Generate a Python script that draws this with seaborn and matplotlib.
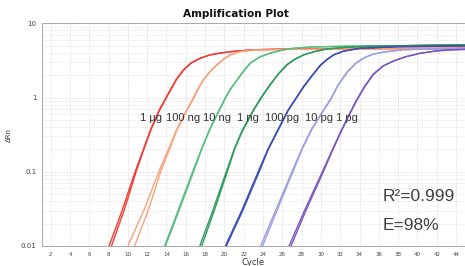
import numpy as np
import pandas as pd
import matplotlib
matplotlib.use("Agg")
import matplotlib.pyplot as plt
import seaborn as sns

# standards, dilution series
samples = ["1 µg", "100 ng", "10 ng", "1 ng", "100 pg", "10 pg", "1 pg"]
colors = ["#f23b36", "#f7a27a", "#5cbf80", "#2f9a5c", "#3a4db5", "#9c9fe0", "#7a58bd"]

# delta Rn readings per standard; two replicates (A/B) share the Rn values
v_1ug = [0.005, 0.01, 0.03, 0.1, 0.2, 0.37, 0.68, 1.0, 1.27, 1.75, 2.36, 2.9, 3.4, 3.75, 3.96, 4.2, 4.4, 4.55, 4.6]
c_1ug_a = [7.55, 8.05, 9.4, 10.75, 11.6, 12.35, 13.25, 13.95, 14.4, 15.0, 15.75, 16.5, 17.5, 18.5, 19.5, 21, 23, 28, 45]
c_1ug_b = [7.8, 8.3, 9.6, 10.85, 11.65, 12.4, 13.3, 14.0, 14.45, 15.05, 15.8, 16.55, 17.55, 18.5, 19.5, 21, 23, 28, 45]

v_100ng = [0.005, 0.01, 0.03, 0.1, 0.2, 0.37, 0.68, 1.0, 1.35, 1.73, 2.25, 2.76, 3.3, 3.76, 4.15, 4.35, 4.45, 4.55]
c_100ng_a = [9.5, 10.0, 11.65, 13.2, 14.2, 15.05, 16.1, 16.8, 17.3, 17.8, 18.5, 19.2, 19.9, 20.6, 21.6, 23, 26, 45]
c_100ng_b = [10.2, 10.7, 12.1, 13.4, 14.3, 15.1, 16.15, 16.85, 17.35, 17.85, 18.55, 19.25, 19.95, 20.65, 21.6, 23, 26, 45]

v_10ng = [0.005, 0.01, 0.03, 0.1, 0.2, 0.37, 0.72, 1.0, 1.3, 1.73, 2.3, 2.9, 3.5, 3.96, 4.3, 4.6, 4.8, 4.9, 5.1]
c_10ng_a = [13.3, 13.8, 15.2, 16.7, 17.6, 18.45, 19.55, 20.1, 20.6, 21.3, 22.0, 22.65, 23.6, 24.7, 25.8, 27.1, 29, 32, 45]
c_10ng_b = [13.4, 13.9, 15.3, 16.8, 17.65, 18.5, 19.6, 20.15, 20.65, 21.35, 22.05, 22.7, 23.65, 24.75, 25.8, 27.1, 29, 32, 45]

v_1ng = [0.005, 0.01, 0.03, 0.1, 0.2, 0.35, 0.68, 1.0, 1.48, 2.1, 2.76, 3.3, 3.76, 4.15, 4.5, 4.75, 4.9, 5.15]
c_1ng_a = [17.0, 17.45, 18.8, 20.2, 21.0, 21.8, 23.0, 23.8, 24.7, 25.6, 26.45, 27.3, 28.2, 29.3, 30.6, 32.5, 35, 45]
c_1ng_b = [17.2, 17.65, 18.95, 20.3, 21.05, 21.85, 23.05, 23.85, 24.75, 25.65, 26.5, 27.35, 28.25, 29.3, 30.6, 32.5, 35, 45]

v_100pg = [0.005, 0.01, 0.03, 0.1, 0.2, 0.37, 0.68, 1.0, 1.41, 2.0, 2.7, 3.25, 3.76, 4.2, 4.6, 4.85, 4.95]
c_100pg_a = [19.6, 20.1, 21.8, 23.5, 24.5, 25.55, 26.6, 27.45, 28.2, 29.1, 29.9, 30.6, 31.3, 32.3, 34, 38, 45]
c_100pg_b = [19.7, 20.2, 21.9, 23.6, 24.55, 25.6, 26.65, 27.5, 28.25, 29.15, 29.95, 30.65, 31.35, 32.3, 34, 38, 45]

v_10pg = [0.005, 0.01, 0.03, 0.1, 0.2, 0.37, 0.6, 0.93, 1.5, 2.2, 2.9, 3.4, 3.8, 4.1, 4.4, 4.5, 4.55]
c_10pg_a = [23.3, 23.75, 25.3, 27.0, 28.0, 29.0, 30.0, 30.95, 31.8, 32.7, 33.6, 34.4, 35.3, 36.5, 38.5, 41, 45]
c_10pg_b = [23.5, 23.95, 25.45, 27.1, 28.05, 29.05, 30.05, 31.0, 31.85, 32.75, 33.65, 34.45, 35.3, 36.5, 38.5, 41, 45]

v_1pg = [0.005, 0.01, 0.03, 0.1, 0.2, 0.37, 0.62, 0.93, 1.4, 2.05, 2.65, 3.1, 3.55, 3.95, 4.25, 4.4, 4.45]
c_1pg_a = [26.2, 26.7, 28.3, 30.15, 31.2, 32.15, 33.0, 33.7, 34.5, 35.4, 36.4, 37.5, 38.8, 40.3, 42, 43.7, 45]
c_1pg_b = [26.4, 26.9, 28.45, 30.25, 31.25, 32.2, 33.05, 33.75, 34.55, 35.45, 36.45, 37.5, 38.8, 40.3, 42, 43.7, 45]

curves = [
    ("1 µg", v_1ug, c_1ug_a, c_1ug_b),
    ("100 ng", v_100ng, c_100ng_a, c_100ng_b),
    ("10 ng", v_10ng, c_10ng_a, c_10ng_b),
    ("1 ng", v_1ng, c_1ng_a, c_1ng_b),
    ("100 pg", v_100pg, c_100pg_a, c_100pg_b),
    ("10 pg", v_10pg, c_10pg_a, c_10pg_b),
    ("1 pg", v_1pg, c_1pg_a, c_1pg_b),
]

rows = []
for name, vals, ca, cb in curves:
    for rep, cyc in (("A", ca), ("B", cb)):
        for c, v in zip(cyc, vals):
            rows.append({"Cycle": c, "dRn": v, "Sample": name, "Rep": rep})
df = pd.DataFrame(rows)

sns.set_style("white")
plt.rcParams['font.family'] = ['DejaVu Sans']

fig = plt.figure(figsize=(4.65, 2.66), dpi=100)
ax = fig.add_axes([0.0903, 0.0752, 0.9097, 0.8372])

sns.lineplot(data=df, x="Cycle", y="dRn", hue="Sample", units="Rep", estimator=None,
             sort=False, palette=dict(zip(samples, colors)), hue_order=samples,
             legend=False, lw=1.0, ax=ax)

ax.set_yscale("log")
ax.set_xlim(1.1, 44.93)
ax.set_ylim(0.01, 10)
ax.set_xticks(np.arange(2, 45, 2))
ax.set_xticklabels([str(t) for t in range(2, 45, 2)], fontsize=4, color="#555555")
ax.set_yticks([0.01, 0.1, 1, 10])
ax.set_yticklabels(["0.01", "0.1", "1", "10"], fontsize=5, color="#333333")
ax.tick_params(axis="both", length=2, width=0.5, colors="#999999", pad=2)
ax.tick_params(axis="both", labelcolor="#444444")
ax.tick_params(axis="y", which="minor", length=0)

ax.grid(True, which="major", color="#d8d8d8", ls=(0, (2, 1.5)), lw=0.5)
ax.grid(True, which="minor", axis="y", color="#e2e2e2", ls=(0, (2, 1.5)), lw=0.5)
for side in ["left", "bottom", "top"]:
    ax.spines[side].set_color("#aaaaaa")
    ax.spines[side].set_linewidth(0.7)
ax.spines["right"].set_visible(False)

ax.set_xlabel("Cycle", fontsize=6, color="#333333", labelpad=1)
ax.set_ylabel("ΔRn", fontsize=5, color="#333333", labelpad=6)
fig.text(0.508, 0.947, "Amplification Plot", ha="center", va="center",
         fontsize=7.6, fontweight="bold", color="#111111")

# sample labels along the curves (left edges, in cycles)
label_cycles = [11.25, 14.0, 17.8, 21.3, 24.2, 28.35, 31.55]
for lab, cx in zip(samples, label_cycles):
    ax.text(cx, 0.53, lab, ha="left", va="center", fontsize=8,
            family=["Liberation Sans", "DejaVu Sans"], color="#333333")

ax.text(36.4, 0.046, "R²=0.999", ha="left", va="center", fontsize=12.5,
        family=["Liberation Sans", "DejaVu Sans"], color="#404040")
ax.text(36.4, 0.0186, "E=98%", ha="left", va="center", fontsize=12.5,
        family=["Liberation Sans", "DejaVu Sans"], color="#404040")

fig.savefig("out.png", dpi=100)
